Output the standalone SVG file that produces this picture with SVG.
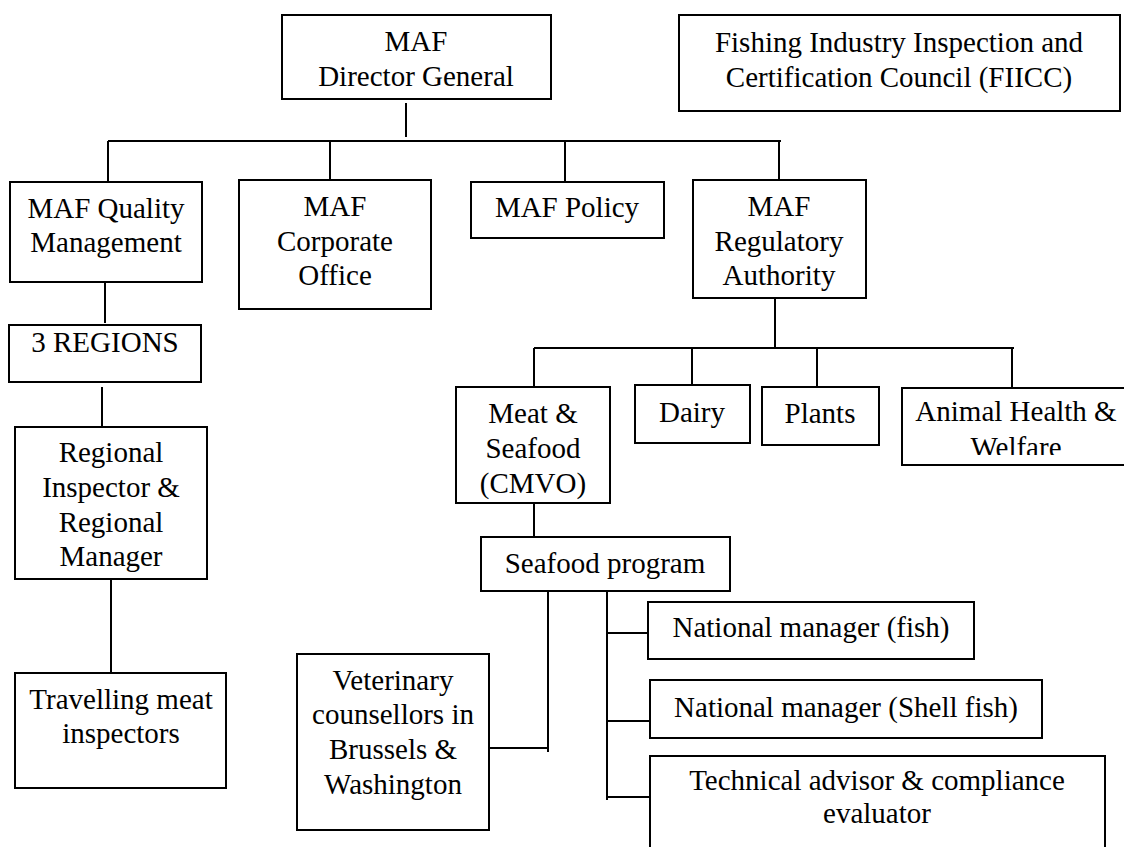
<svg xmlns="http://www.w3.org/2000/svg" width="1124" height="847" viewBox="0 0 1124 847">
<style>
  .box { fill: #ffffff; stroke: #000000; stroke-width: 2; }
  .ln { stroke: #000000; stroke-width: 2; fill: none; }
  text { font-family: "Liberation Serif", "Times New Roman", serif; font-size: 29px; fill: #000000; text-anchor: middle; }
</style>
<defs>
  <clipPath id="ahClip"><rect x="900" y="386" width="240" height="69"/></clipPath>
</defs>
<rect x="0" y="0" width="1124" height="847" fill="#ffffff"/>
<g id="connectors">
  <line class="ln" x1="406" y1="103" x2="406" y2="137"/>
  <line class="ln" x1="108" y1="141" x2="781" y2="141"/>
  <line class="ln" x1="108" y1="141" x2="108" y2="182"/>
  <line class="ln" x1="330" y1="141" x2="330" y2="180"/>
  <line class="ln" x1="565" y1="141" x2="565" y2="182"/>
  <line class="ln" x1="779" y1="141" x2="779" y2="180"/>
  <line class="ln" x1="105" y1="282" x2="105" y2="323"/>
  <line class="ln" x1="102" y1="387" x2="102" y2="427"/>
  <line class="ln" x1="111" y1="579" x2="111" y2="673"/>
  <line class="ln" x1="775" y1="298" x2="775" y2="348"/>
  <line class="ln" x1="534" y1="348" x2="1014" y2="348"/>
  <line class="ln" x1="534" y1="348" x2="534" y2="387"/>
  <line class="ln" x1="692" y1="348" x2="692" y2="385"/>
  <line class="ln" x1="817" y1="348" x2="817" y2="387"/>
  <line class="ln" x1="1012" y1="348" x2="1012" y2="388"/>
  <line class="ln" x1="534" y1="503" x2="534" y2="537"/>
  <line class="ln" x1="548" y1="591" x2="548" y2="752"/>
  <line class="ln" x1="489" y1="748" x2="549" y2="748"/>
  <line class="ln" x1="607" y1="591" x2="607" y2="800"/>
  <line class="ln" x1="607" y1="633" x2="648" y2="633"/>
  <line class="ln" x1="607" y1="721" x2="652" y2="721"/>
  <line class="ln" x1="607" y1="797" x2="652" y2="797"/>
</g>
<g id="dg">
  <rect class="box" x="282" y="15" width="269" height="84"/>
  <text x="416" y="51">MAF</text>
  <text x="416" y="86">Director General</text>
</g>
<g id="fiicc">
  <rect class="box" x="679" y="15" width="441" height="96"/>
  <text x="899" y="52">Fishing Industry Inspection and</text>
  <text x="899" y="87">Certification Council (FIICC)</text>
</g>
<g id="quality">
  <rect class="box" x="10" y="182" width="192" height="100"/>
  <text x="106" y="218">MAF Quality</text>
  <text x="106" y="252">Management</text>
</g>
<g id="corporate">
  <rect class="box" x="239" y="180" width="192" height="129"/>
  <text x="335" y="216">MAF</text>
  <text x="335" y="251">Corporate</text>
  <text x="335" y="285">Office</text>
</g>
<g id="policy">
  <rect class="box" x="471" y="182" width="193" height="56"/>
  <text x="567" y="217">MAF Policy</text>
</g>
<g id="regulatory">
  <rect class="box" x="693" y="180" width="173" height="118"/>
  <text x="779" y="216">MAF</text>
  <text x="779" y="251">Regulatory</text>
  <text x="779" y="285">Authority</text>
</g>
<g id="regions">
  <rect class="box" x="9" y="325" width="192" height="57"/>
  <text x="105" y="352">3 REGIONS</text>
</g>
<g id="regional">
  <rect class="box" x="15" y="427" width="192" height="152"/>
  <text x="111" y="462">Regional</text>
  <text x="111" y="497">Inspector &amp;</text>
  <text x="111" y="532">Regional</text>
  <text x="111" y="566">Manager</text>
</g>
<g id="travelling">
  <rect class="box" x="15" y="673" width="211" height="115"/>
  <text x="121" y="709">Travelling meat</text>
  <text x="121" y="743">inspectors</text>
</g>
<g id="meat">
  <rect class="box" x="456" y="387" width="154" height="116"/>
  <text x="533" y="423">Meat &amp;</text>
  <text x="533" y="458">Seafood</text>
  <text x="533" y="493">(CMVO)</text>
</g>
<g id="dairy">
  <rect class="box" x="635" y="385" width="115" height="58"/>
  <text x="692" y="422">Dairy</text>
</g>
<g id="plants">
  <rect class="box" x="762" y="387" width="117" height="58"/>
  <text x="820" y="423">Plants</text>
</g>
<g id="animal">
  <rect class="box" x="902" y="388" width="240" height="77"/>
  <g clip-path="url(#ahClip)">
    <text x="1016" y="421">Animal Health &amp;</text>
    <text x="1016" y="457">Welfare</text>
  </g>
</g>
<g id="seafood">
  <rect class="box" x="481" y="537" width="249" height="54"/>
  <text x="605" y="573">Seafood program</text>
</g>
<g id="vet">
  <rect class="box" x="297" y="654" width="192" height="176"/>
  <text x="393" y="690">Veterinary</text>
  <text x="393" y="724">counsellors in</text>
  <text x="393" y="759">Brussels &amp;</text>
  <text x="393" y="794">Washington</text>
</g>
<g id="nmfish">
  <rect class="box" x="648" y="602" width="326" height="57"/>
  <text x="811" y="637">National manager (fish)</text>
</g>
<g id="nmshell">
  <rect class="box" x="650" y="680" width="392" height="58"/>
  <text x="846" y="717">National manager (Shell fish)</text>
</g>
<g id="technical">
  <rect class="box" x="650" y="756" width="455" height="110"/>
  <text x="877" y="790">Technical advisor &amp; compliance</text>
  <text x="877" y="823">evaluator</text>
</g>
</svg>
